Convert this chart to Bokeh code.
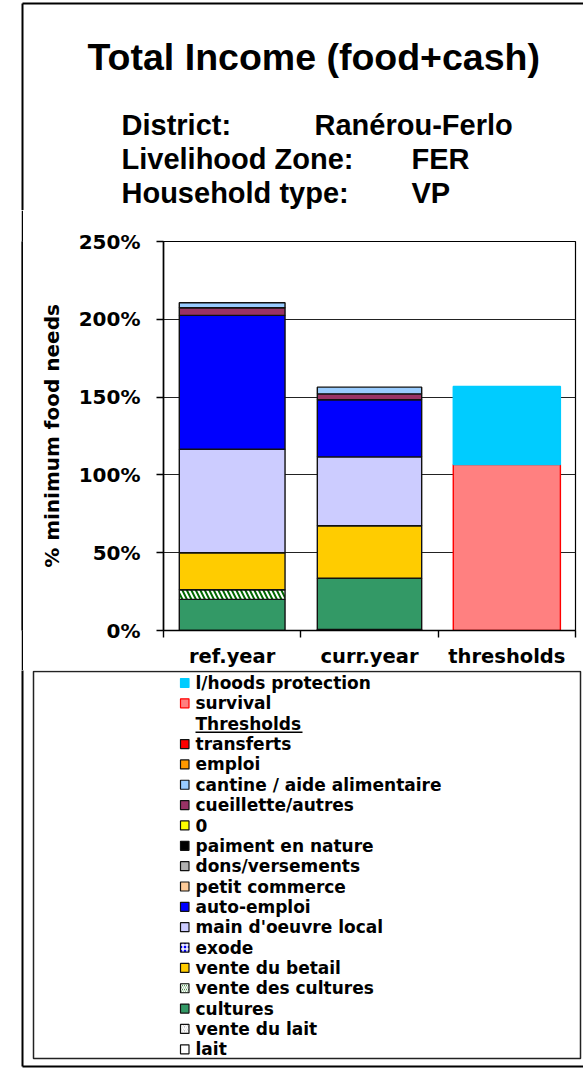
import numpy as np
from bokeh.plotting import figure
from bokeh.layouts import column, row
from bokeh.models import Range1d, FixedTicker, ColumnDataSource, Spacer
from bokeh.core.properties import value
from bokeh.embed import file_html
from bokeh.resources import INLINE

# ---------------- data ----------------
categories = ["ref.year", "curr.year", "thresholds"]
y_ticks = [0, 50, 100, 150, 200, 250]
y_tick_labels = ["0%", "50%", "100%", "150%", "200%", "250%"]

title_text = "Total Income (food+cash)"
info_keys = ["District:", "Livelihood Zone:", "Household type:"]
info_vals = ["Ranérou-Ferlo", "FER", "VP"]

# stacked series, bottom -> top (values in % of minimum food needs)
lait               = [0.0, 0.6, 0.0]
vente_du_lait      = [0.0, 0.0, 0.0]
cultures           = [20.0, 33.0, 0.0]
vente_des_cultures = [6.2, 0.0, 0.0]
vente_du_betail    = [23.8, 33.7, 0.0]
exode              = [0.0, 0.0, 0.0]
main_doeuvre_local = [66.5, 44.3, 0.0]
auto_emploi        = [86.0, 36.7, 0.0]
petit_commerce     = [0.0, 0.0, 0.0]
dons_versements    = [0.0, 0.0, 0.0]
paiment_en_nature  = [0.0, 0.0, 0.0]
zero_series        = [0.0, 0.0, 0.0]
cueillette_autres  = [4.9, 3.8, 0.0]
cantine_aide       = [3.2, 4.3, 0.0]
emploi             = [0.0, 0.0, 0.0]
transferts         = [0.0, 0.0, 0.0]
survival           = [0.0, 0.0, 106.7]
lhoods_protection  = [0.0, 0.0, 50.1]

series_names = ["lait", "vente du lait", "cultures", "vente des cultures",
                "vente du betail", "exode", "main d'oeuvre local", "auto-emploi",
                "petit commerce", "dons/versements", "paiment en nature", "0",
                "cueillette/autres", "cantine / aide alimentaire", "emploi",
                "transferts", "survival", "l/hoods protection"]
series_values = [lait, vente_du_lait, cultures, vente_des_cultures,
                 vente_du_betail, exode, main_doeuvre_local, auto_emploi,
                 petit_commerce, dons_versements, paiment_en_nature, zero_series,
                 cueillette_autres, cantine_aide, emploi, transferts,
                 survival, lhoods_protection]
series_colors = ["#FFFFFF", "#C0C0C0", "#339966", "#006600",
                 "#FFCC00", "#0000FF", "#CCCCFF", "#0000FF",
                 "#FFCC99", "#B2B2B2", "#000000", "#FFFF00",
                 "#993366", "#99CCFF", "#FF9900",
                 "#FF0000", "#FF8080", "#00CCFF"]
series_lines = ["#111111"] * 16 + ["#FF0000", "#00CCFF"]
series_hatch = [" ", "/", " ", "\\", " ", "+", " ", " ",
                " ", " ", " ", " ", " ", " ", " ", " ", " ", " "]
n_threshold_series = 2

FONT_A = "Liberation Sans"   # header
FONT_B = "DejaVu Sans"       # axes and legend

W, H = 583, 1068
HEAD_H = 210        # header panel: page y 0..210
CHART_B = 670       # chart panel: page y 210..670, legend panel below
SPACER_W = 21
BAR_W = 2
FL, FR, FT, FB = 163, 575, 241, 630   # page coordinates of the plot frame


def blank(width, height, xr, yr, fill="white"):
    f = figure(width=width, height=height, output_backend="svg", toolbar_location=None,
               title=None, x_range=Range1d(*xr), y_range=Range1d(*yr),
               x_axis_type=None, y_axis_type=None,
               min_border_left=0, min_border_right=0, min_border_top=0, min_border_bottom=0)
    f.grid.visible = False
    f.outline_line_color = None
    f.background_fill_color = fill
    f.border_fill_color = fill
    return f


# --------------- header ----------------
head = blank(W, HEAD_H, (0, W), (HEAD_H, 0))
head.text(x=[87], y=[56], text=[title_text], text_font=value(FONT_A),
          text_font_style="bold", text_font_size="37.5px", text_baseline="middle",
          text_color="black")
info_y = [124, 158, 192]
head.text(x=[121] * 3, y=info_y, text=info_keys, text_font=value(FONT_A),
          text_font_style="bold", text_font_size="29px", text_baseline="middle",
          text_color="black")
head.text(x=[314, 411, 411], y=info_y, text=info_vals, text_font=value(FONT_A),
          text_font_style="bold", text_font_size="29px", text_baseline="middle",
          text_color="black")
head.segment(x0=[22, 22], y0=[3, 3], x1=[W + 5, 22], y1=[3, HEAD_H + 5],
             line_color="black", line_width=2)

# --------------- left border strip beside the chart ----------------
CH = CHART_B - HEAD_H
gap = Spacer(width=SPACER_W, height=CH)
strip = blank(BAR_W, CH, (0, BAR_W), (CH, 0), fill="black")
strip.quad(left=[0], right=[BAR_W], top=[-5], bottom=[CH + 5],
           fill_color="black", line_alpha=0)

# --------------- chart ----------------
CW = W - SPACER_W - BAR_W
LEFT0 = SPACER_W + BAR_W
p = figure(width=CW, height=CH, output_backend="svg", toolbar_location=None,
           title=None, x_range=Range1d(0, 3), y_range=Range1d(0, 250),
           min_border_left=FL - LEFT0, min_border_right=W - FR,
           min_border_top=FT - HEAD_H, min_border_bottom=CHART_B - FB)
p.background_fill_color = "white"
p.border_fill_color = "white"
p.outline_line_color = "black"
p.outline_line_width = 1.2

xs = np.arange(len(categories)) + 0.5
widths = [0.77, 0.76, 0.78]
bottom = np.zeros(len(categories))
for name, vals, col, lc, hp in zip(series_names, series_values, series_colors,
                                   series_lines, series_hatch):
    v = np.array(vals, dtype=float)
    alpha = np.where(v > 0, 1.0, 0.0)
    src = ColumnDataSource(dict(x=xs, w=widths, bottom=bottom, top=bottom + v, alpha=alpha))
    kw = dict(fill_color=col, line_color=lc, line_width=1.4,
              fill_alpha="alpha", line_alpha="alpha")
    if hp.strip():
        kw.update(hatch_pattern=hp, hatch_color="white", hatch_alpha="alpha",
                  hatch_weight=2.0, hatch_scale=9)
    p.vbar(x="x", width="w", bottom="bottom", top="top", source=src, **kw)
    bottom = bottom + v

yax = p.yaxis[0]
yax.ticker = FixedTicker(ticks=y_ticks)
yax.major_label_overrides = {t: l for t, l in zip(y_ticks, y_tick_labels)}
yax.major_label_text_font = FONT_B
yax.major_label_text_font_style = "bold"
yax.major_label_text_font_size = "20px"
yax.major_label_text_color = "black"
yax.major_label_standoff = 16
yax.major_tick_out = 7
yax.major_tick_in = 0
yax.major_tick_line_width = 1.4
yax.major_tick_line_color = "black"
yax.minor_tick_line_color = None
yax.axis_line_width = 1.6
yax.axis_line_color = "black"
yax.axis_label = "% minimum food needs"
yax.axis_label_text_font = FONT_B
yax.axis_label_text_font_style = "bold"
yax.axis_label_text_font_size = "20px"
yax.axis_label_text_color = "black"
yax.axis_label_standoff = 12

xax = p.xaxis[0]
xax.ticker = FixedTicker(ticks=list(xs), minor_ticks=list(range(len(categories) + 1)))
xax.major_label_overrides = {float(x): c for x, c in zip(xs, categories)}
xax.major_label_text_font = FONT_B
xax.major_label_text_font_style = "bold"
xax.major_label_text_font_size = "19.5px"
xax.major_label_text_color = "black"
xax.major_label_standoff = 7
xax.major_tick_line_color = None
xax.major_tick_out = 0
xax.major_tick_in = 0
xax.minor_tick_out = 7
xax.minor_tick_in = 0
xax.minor_tick_line_color = "black"
xax.minor_tick_line_width = 1.4
xax.axis_line_width = 1.6
xax.axis_line_color = "black"

p.xgrid.visible = False
p.ygrid.ticker = FixedTicker(ticks=y_ticks)
p.ygrid.grid_line_color = "#222222"
p.ygrid.grid_line_width = 1.2

# --------------- legend panel ----------------
leg = blank(W, H - CHART_B, (0, W), (H, CHART_B))
leg.segment(x0=[22, 22], y0=[CHART_B - 5, 1066], x1=[22, W + 5], y1=[1066, 1066],
            line_color="black", line_width=2)
leg.quad(left=[33], right=[580], top=[671], bottom=[1058], fill_alpha=0,
         line_color="#222222", line_width=1.5)

rows = []
for i in range(len(series_names) - 1, -1, -1):
    rows.append(i)
    if i == len(series_names) - n_threshold_series:
        rows.append(None)  # "Thresholds" header row

mid0, pitch = 682.5, 20.35
sw = dict(left=[], right=[], top=[], bottom=[], fill=[], line=[], hatch=[])
txt = dict(x=[], y=[], text=[])
for r, idx in enumerate(rows):
    ym = mid0 + r * pitch
    if idx is None:
        txt["x"].append(195); txt["y"].append(ym); txt["text"].append("Thresholds")
        leg.segment(x0=[195], y0=[ym + 8.5], x1=[302], y1=[ym + 8.5],
                    line_color="black", line_width=1.5)
        continue
    sw["left"].append(180); sw["right"].append(188.5)
    sw["top"].append(ym - 4.5); sw["bottom"].append(ym + 4.5)
    sw["fill"].append(series_colors[idx]); sw["line"].append(series_lines[idx])
    sw["hatch"].append(series_hatch[idx])
    txt["x"].append(195); txt["y"].append(ym); txt["text"].append(series_names[idx])

leg.quad(left="left", right="right", top="top", bottom="bottom",
         source=ColumnDataSource(sw), fill_color="fill", line_color="line",
         line_width=1.2, hatch_pattern="hatch", hatch_color="white",
         hatch_weight=1.5, hatch_scale=4)
leg.text(x="x", y="y", text="text", source=ColumnDataSource(txt),
         text_font=value(FONT_B), text_font_style="bold", text_font_size="17px",
         text_baseline="middle", text_color="black")

layout = column(head, row(gap, strip, p), leg)
open("out.html", "w").write(file_html(layout, INLINE))
